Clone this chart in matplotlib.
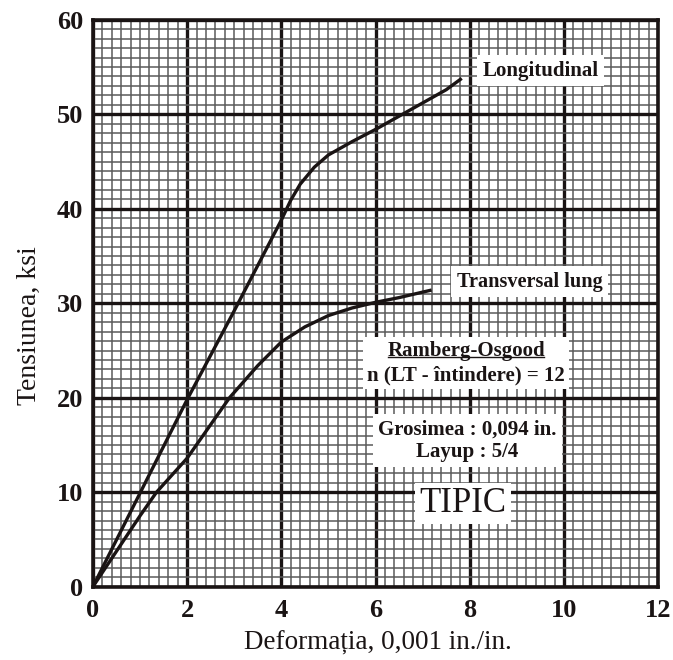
import matplotlib
matplotlib.use("Agg")
import matplotlib.pyplot as plt
import numpy as np

# curves (strain 0.001 in./in., stress ksi)
long_x = [0, 1.0, 2.0, 3.0, 3.5, 4.0, 4.2, 4.4, 4.7, 5.0, 5.5, 6.0, 6.5, 7.0, 7.5, 7.83]
long_y = [0, 9.9, 19.8, 29.2, 34.0, 38.8, 40.9, 42.6, 44.4, 45.7, 47.1, 48.4, 49.8, 51.2, 52.6, 53.8]
trans_x = [0, 1.0, 1.35, 2.0, 2.9, 3.5, 4.0, 4.5, 5.0, 5.5, 6.0, 6.5, 7.19]
trans_y = [0, 7.5, 10.0, 13.6, 20.0, 23.4, 25.9, 27.5, 28.7, 29.5, 30.1, 30.6, 31.4]

x_ticks = [0, 2, 4, 6, 8, 10, 12]
y_ticks = [0, 10, 20, 30, 40, 50, 60]

plt.rcParams['font.family'] = ['Liberation Serif', 'DejaVu Serif']

fig = plt.figure(figsize=(6.73, 6.6), dpi=100)
ax = fig.add_axes([0.138, 0.111, 0.840, 0.859])

ink = '#1a1414'
ax.set_xlim(0, 12)
ax.set_ylim(0, 60)
ax.set_xticks(x_ticks)
ax.set_yticks(y_ticks)
ax.set_xticks(np.arange(0, 12.01, 0.2), minor=True)
ax.set_yticks(np.arange(0, 60.01, 1), minor=True)
ax.tick_params(which='both', length=0)
ax.tick_params(axis='x', pad=9, labelsize=19)
ax.tick_params(axis='y', pad=7, labelsize=19)
for lab in ax.get_xticklabels() + ax.get_yticklabels():
    lab.set_fontweight('bold')
    lab.set_color(ink)

ax.grid(which='minor', color='#5a5a5a', linewidth=1.1)
ax.grid(which='major', color=ink, linewidth=2.4)
ax.set_axisbelow(True)
for s in ax.spines.values():
    s.set_linewidth(2.6)
    s.set_color(ink)

ax.plot(long_x, long_y, color=ink, linewidth=2.4, solid_capstyle='butt')
ax.plot(trans_x, trans_y, color=ink, linewidth=2.4, solid_capstyle='butt')

ax.set_xlabel('Deformația, 0,001 in./in.', fontsize=19.5, color=ink)
ax.set_ylabel('Tensiunea, ksi', fontsize=20, color=ink)
ax.xaxis.set_label_coords(0.505, -0.078)
ax.yaxis.set_label_coords(-0.091, 0.46)

box = dict(facecolor='white', edgecolor='none', pad=4)
ax.text(9.5, 54.6, 'Longitudinal', fontsize=15, fontweight='bold', ha='center', va='center',
        color=ink, bbox=box)
ax.text(9.27, 32.3, 'Transversal lung', fontsize=14.6, fontweight='bold', ha='center', va='center',
        color=ink, bbox=box)
ax.text(7.92, 23.65, 'Ramberg-Osgood\nn (LT - întindere) = 12', fontsize=15, fontweight='bold',
        ha='center', va='center', linespacing=1.25, color=ink,
        bbox=dict(facecolor='white', edgecolor='none', pad=3))
ax.plot([6.27, 9.58], [24.35, 24.35], color=ink, linewidth=1.0, zorder=5)
ax.text(7.95, 15.45, 'Grosimea : 0,094 in.\nLayup : 5/4', fontsize=15, fontweight='bold',
        ha='center', va='center', linespacing=1.1, color=ink,
        bbox=dict(facecolor='white', edgecolor='none', pad=4))
ax.text(7.86, 8.8, 'TIPIC', fontsize=25, ha='center', va='center', color=ink,
        bbox=dict(facecolor='white', edgecolor='none', pad=3))

fig.savefig('out.png', dpi=100)
